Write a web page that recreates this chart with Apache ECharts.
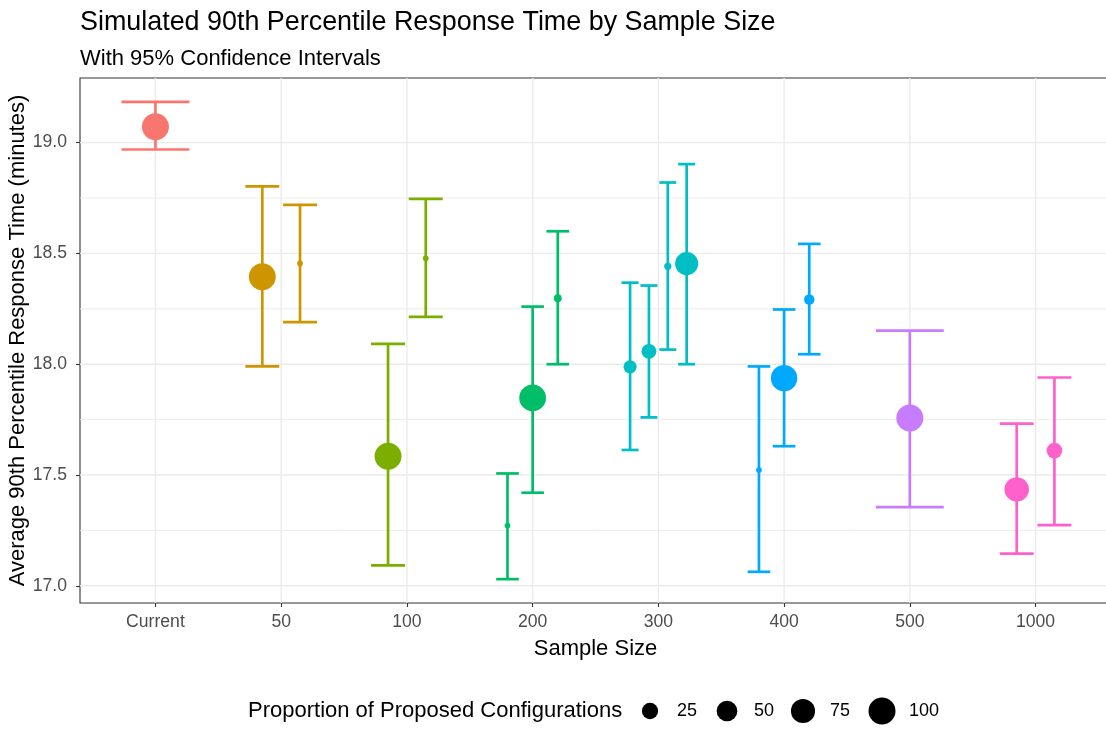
<!DOCTYPE html>
<html>
<head>
<meta charset="utf-8">
<script src="https://cdn.jsdelivr.net/npm/echarts@6/dist/echarts.min.js"></script>
<style>
  html, body { margin: 0; padding: 0; background: #ffffff; }
  #chart { width: 1106px; height: 734px; }
</style>
</head>
<body>
<div id="chart"></div>
<script>
// Sample sizes on the x axis
const categories = ['Current', '50', '100', '200', '300', '400', '500', '1000'];

// One entry per configuration: which sample size it belongs to (index into categories)
const pointCategory = [0, 1, 1, 2, 2, 3, 3, 3, 4, 4, 4, 4, 5, 5, 5, 6, 7, 7];
// Mean of the simulated 90th percentile response time (minutes)
const meanValues  = [19.072, 18.395, 18.455, 17.585, 18.478, 17.272, 17.848, 18.298, 17.988, 18.058, 18.442, 18.454, 17.522, 17.937, 18.292, 17.757, 17.435, 17.610];
// 95% confidence interval bounds
const lowerValues = [18.969, 17.990, 18.190, 17.092, 18.214, 17.030, 17.420, 18.000, 17.613, 17.760, 18.066, 18.000, 17.063, 17.630, 18.045, 17.355, 17.145, 17.274];
const upperValues = [19.184, 18.803, 18.719, 18.092, 18.746, 17.507, 18.260, 18.600, 18.368, 18.355, 18.820, 18.903, 17.990, 18.247, 18.543, 18.152, 17.732, 17.940];
// Proportion of proposed configurations (%)
const proportions = [100, 99.5, 0.5, 99.5, 0.5, 0.5, 98, 1.5, 13, 19, 1, 67, 0.5, 94, 5.5, 100, 78, 22];

const yTickValues  = [17.0, 17.5, 18.0, 18.5, 19.0];
const yMinorValues = [17.25, 17.75, 18.25, 18.75];
const legendBreaks = [25, 50, 75, 100];

// ---- styling ----
const palette = ['#F8766D', '#CD9600', '#7CAE00', '#00BE67', '#00BFC4', '#00A9FF', '#C77CFF', '#FF61CC'];
const FONT = '"Liberation Sans", Arial, sans-serif';
const DODGE_WIDTH = 0.6;   // total dodge width per category (x units)
const BAR_WIDTH = 0.54;    // total error-bar cap width per category (x units)

// dodge: spread the configurations of each sample size side by side
const groupCount = categories.map((_, c) => pointCategory.filter(k => k === c).length);
const seen = categories.map(() => 0);
const slot = pointCategory.map(c => seen[c]++);
const dodgedX = pointCategory.map((c, i) => c + (slot[i] - (groupCount[c] - 1) / 2) * DODGE_WIDTH / groupCount[c]);
const capHalf = pointCategory.map(c => BAR_WIDTH / groupCount[c] / 2);

// area-style size scale for the proportion
const pMin = Math.min(...proportions);
const pMax = Math.max(...proportions);
function pointDiameter(p) {
  const t = Math.sqrt(Math.max(0, (p - pMin) / (pMax - pMin)));
  return 5.7 + 21.3 * t;
}

// y limits: data range plus 5% on both sides
const yDataMin = Math.min(...lowerValues);
const yDataMax = Math.max(...upperValues);
const yPad = (yDataMax - yDataMin) * 0.05;
const yMin = yDataMin - yPad;
const yMax = yDataMax + yPad;
const xMin = -0.6;
const xMax = categories.length - 1 + 0.6;

const errorData = pointCategory.map((c, i) => [dodgedX[i], lowerValues[i], upperValues[i], capHalf[i], c]);
const pointData = pointCategory.map((c, i) => [dodgedX[i], meanValues[i], proportions[i], c]);
const vGridData = categories.map((_, i) => [i, yMin]);
const hGridData = yTickValues.map(v => [xMin, v, 1]).concat(yMinorValues.map(v => [xMin, v, 0]));

const chart = echarts.init(document.getElementById('chart'), null, { renderer: 'canvas' });

// legend for the point size scale
const legendY = 711;
const legendKeyX = [650, 727, 803, 882];
const legendElements = [{
  type: 'text', x: 248, y: legendY,
  style: { text: 'Proportion of Proposed Configurations', font: '22px ' + FONT, fill: '#000000', verticalAlign: 'middle', align: 'left' }
}];
legendBreaks.forEach((b, i) => {
  legendElements.push({
    type: 'circle', shape: { cx: legendKeyX[i], cy: legendY, r: pointDiameter(b) / 2 },
    style: { fill: '#000000' }
  });
  legendElements.push({
    type: 'text', x: legendKeyX[i] + 27, y: legendY,
    style: { text: String(b), font: '18px ' + FONT, fill: '#000000', verticalAlign: 'middle', align: 'left' }
  });
});

const option = {
  animation: false,
  backgroundColor: '#ffffff',
  title: [
    {
      text: 'Simulated 90th Percentile Response Time by Sample Size',
      left: 80, top: 9, padding: 0,
      textStyle: { fontFamily: FONT, fontSize: 26.9, fontWeight: 'normal', color: '#000000', lineHeight: 28 }
    },
    {
      text: 'With 95% Confidence Intervals',
      left: 80, top: 47, padding: 0,
      textStyle: { fontFamily: FONT, fontSize: 22, fontWeight: 'normal', color: '#000000', lineHeight: 24 }
    }
  ],
  grid: {
    left: 80, top: 78, width: 1031, height: 525,
    outerBoundsMode: 'none', containLabel: false,
    show: true, borderColor: '#333333', borderWidth: 1.1, backgroundColor: '#ffffff'
  },
  xAxis: {
    type: 'value', min: xMin, max: xMax,
    name: 'Sample Size', nameLocation: 'middle', nameGap: 35, nameMoveOverlap: false,
    nameTextStyle: { fontFamily: FONT, fontSize: 22, color: '#000000' },
    axisLine: { show: false, onZero: false },
    splitLine: { show: false },
    axisTick: { show: true, length: 4, customValues: categories.map((_, i) => i), lineStyle: { color: '#333333', width: 1.1 } },
    axisLabel: {
      customValues: categories.map((_, i) => i),
      formatter: v => categories[Math.round(v)],
      fontFamily: FONT, fontSize: 17.6, color: '#4D4D4D', margin: 10
    }
  },
  yAxis: {
    type: 'value', min: yMin, max: yMax,
    name: 'Average 90th Percentile Response Time (minutes)', nameLocation: 'middle', nameGap: 51, nameMoveOverlap: false,
    nameTextStyle: { fontFamily: FONT, fontSize: 22, color: '#000000' },
    axisLine: { show: false, onZero: false },
    splitLine: { show: false },
    axisTick: { show: true, length: 4, customValues: yTickValues, lineStyle: { color: '#333333', width: 1.1 } },
    axisLabel: {
      customValues: yTickValues,
      formatter: v => v.toFixed(1),
      fontFamily: FONT, fontSize: 17.6, color: '#4D4D4D', margin: 13
    }
  },
  graphic: legendElements,
  series: [
    {
      // vertical grid lines at each sample size
      type: 'custom', z: 1, silent: true,
      data: vGridData,
      encode: { x: 0, y: 1 },
      renderItem: (params, api) => {
        const cs = params.coordSys;
        const x = api.coord([api.value(0), api.value(1)])[0];
        return { type: 'line', shape: { x1: x, y1: cs.y, x2: x, y2: cs.y + cs.height },
                 style: { stroke: '#EBEBEB', lineWidth: 1.4 } };
      }
    },
    {
      // horizontal major / minor grid lines
      type: 'custom', z: 1, silent: true,
      data: hGridData,
      encode: { x: 0, y: 1 },
      renderItem: (params, api) => {
        const cs = params.coordSys;
        const y = api.coord([api.value(0), api.value(1)])[1];
        return { type: 'line', shape: { x1: cs.x, y1: y, x2: cs.x + cs.width, y2: y },
                 style: { stroke: '#EBEBEB', lineWidth: api.value(2) ? 1.4 : 0.9 } };
      }
    },
    {
      // 95% confidence interval error bars
      type: 'custom', z: 3, silent: true,
      data: errorData,
      encode: { x: 0, y: [1, 2] },
      renderItem: (params, api) => {
        const x = api.value(0), lo = api.value(1), hi = api.value(2), hw = api.value(3);
        const color = palette[api.value(4)];
        const top = api.coord([x, hi]);
        const bot = api.coord([x, lo]);
        const left = api.coord([x - hw, hi])[0];
        const right = api.coord([x + hw, hi])[0];
        const style = { stroke: color, lineWidth: 2.7, fill: null };
        return {
          type: 'group',
          children: [
            { type: 'line', shape: { x1: top[0], y1: top[1], x2: bot[0], y2: bot[1] }, style },
            { type: 'line', shape: { x1: left, y1: top[1], x2: right, y2: top[1] }, style },
            { type: 'line', shape: { x1: left, y1: bot[1], x2: right, y2: bot[1] }, style }
          ]
        };
      }
    },
    {
      // mean response time, sized by proportion of proposed configurations
      type: 'scatter', z: 4, silent: true,
      data: pointData,
      symbol: 'circle',
      symbolSize: val => pointDiameter(val[2]),
      itemStyle: { color: params => palette[params.data[3]], opacity: 1 }
    }
  ]
};

chart.setOption(option);
</script>
</body>
</html>
